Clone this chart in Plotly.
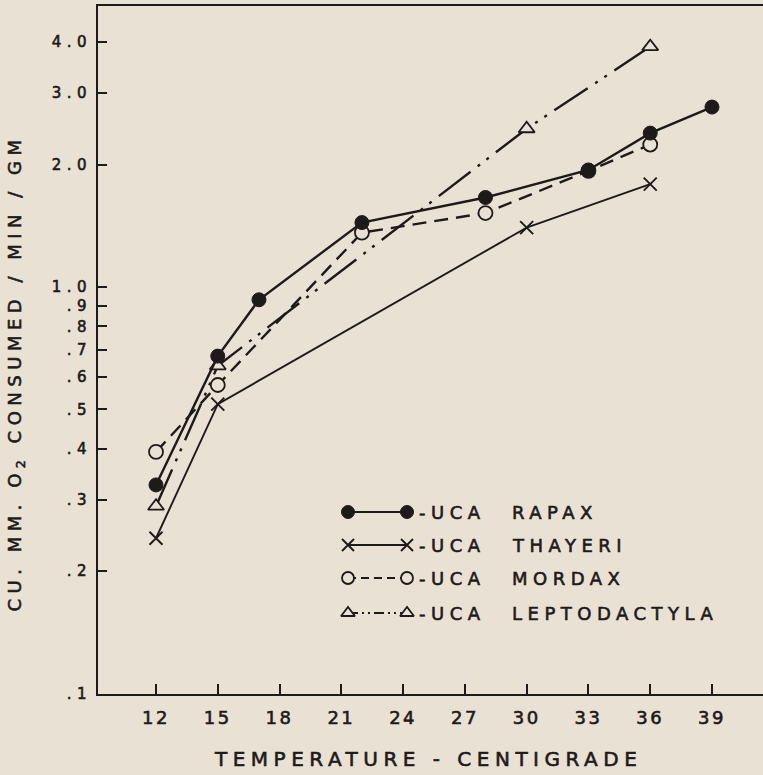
import plotly.graph_objects as go

# ---- data ----
rapax_t = [12, 15, 17, 22, 28, 33, 36, 39]
rapax_o2 = [0.326, 0.676, 0.93, 1.44, 1.66, 1.94, 2.39, 2.77]

thayeri_t = [12, 15, 30, 36]
thayeri_o2 = [0.241, 0.515, 1.40, 1.79]

mordax_t = [12, 15, 22, 28, 33, 36]
mordax_o2 = [0.393, 0.574, 1.36, 1.52, 1.93, 2.24]

lepto_t = [12, 15, 30, 36]
lepto_o2 = [0.289, 0.64, 2.45, 3.90]

x_ticks = [12, 15, 18, 21, 24, 27, 30, 33, 36, 39]
y_tickvals = [0.1, 0.2, 0.3, 0.4, 0.5, 0.6, 0.7, 0.8, 0.9, 1.0, 2.0, 3.0, 4.0]
y_ticktext = [".1", ".2", ".3", ".4", ".5", ".6", ".7", ".8", ".9", "1.0", "2.0", "3.0", "4.0"]

legend_species = ["RAPAX", "THAYERI", "MORDAX", "LEPTODACTYLA"]

# ---- style ----
BG = "#e9e2d4"
INK = "#1f1a1a"
FONT = "DejaVu Sans"

W, H = 763, 775
L, R, T, B = 98, 0, 6, 81
PW, PH = W - L - R, H - T - B


def px_x(px):
    return (px - L) / PW


def px_y(py):
    return (H - B - py) / PH


styles = {
    "rapax": dict(dash="solid", lw=2.4,
                  marker=dict(symbol="circle", size=14, color=INK, line=dict(color=INK, width=1))),
    "thayeri": dict(dash="solid", lw=1.9,
                    marker=dict(symbol="x-thin", size=13, color=INK, line=dict(color=INK, width=1.9))),
    "mordax": dict(dash="14px,8px", lw=2.4,
                   marker=dict(symbol="circle", size=14, color=BG, line=dict(color=INK, width=1.8))),
    "lepto": dict(dash="40px,9px,3px,8px,3px,9px", lw=2.4,
                  marker=dict(symbol="triangle-up", size=14, color=BG, line=dict(color=INK, width=1.8))),
}
data = {
    "rapax": (rapax_t, rapax_o2),
    "thayeri": (thayeri_t, thayeri_o2),
    "mordax": (mordax_t, mordax_o2),
    "lepto": (lepto_t, lepto_o2),
}
legend_order = ["rapax", "thayeri", "mordax", "lepto"]
draw_order = ["thayeri", "mordax", "lepto", "rapax"]
legend_dash = {"rapax": "solid", "thayeri": "solid", "mordax": "8px,5px",
               "lepto": "10px,4px,2px,4px,2px,4px"}

fig = go.Figure()

for key in draw_order:
    s = styles[key]
    t, v = data[key]
    fig.add_trace(go.Scatter(
        x=t, y=v, mode="lines+markers",
        line=dict(color=INK, width=s["lw"], dash=s["dash"]),
        marker=s["marker"], showlegend=False, hoverinfo="skip",
    ))

# ---- hand-drawn style legend on an overlay axis (0..1 coordinates) ----
legend_rows_px = [512, 545, 578, 613]
sample_x0, sample_x1 = px_x(348), px_x(407)
annotations = []
for i, key in enumerate(legend_order):
    s = styles[key]
    yy = px_y(legend_rows_px[i])
    m = dict(s["marker"])
    m["size"] = 13 if key == "rapax" else 12
    fig.add_trace(go.Scatter(
        x=[sample_x0, sample_x1], y=[yy, yy], mode="lines+markers",
        xaxis="x2", yaxis="y2",
        line=dict(color=INK, width=2.2 if key != "thayeri" else 1.8, dash=legend_dash[key]),
        marker=m, showlegend=False, hoverinfo="skip",
    ))
    annotations.append(dict(
        x=px_x(417), y=yy, xref="paper", yref="paper", xanchor="left", yanchor="middle",
        align="left", text="-UCA", showarrow=False,
        font=dict(family=FONT, size=18, color=INK)))
    annotations.append(dict(
        x=px_x(510), y=yy, xref="paper", yref="paper", xanchor="left", yanchor="middle",
        align="left", text=legend_species[i], showarrow=False,
        font=dict(family=FONT, size=18, color=INK)))

# axis titles
annotations.append(dict(
    x=px_x(428), y=px_y(759), xref="paper", yref="paper", xanchor="center", yanchor="middle",
    text="TEMPERATURE - CENTIGRADE", showarrow=False,
    font=dict(family=FONT, size=20, color=INK)))
annotations.append(dict(
    x=px_x(16), y=px_y(373), xref="paper", yref="paper", xanchor="center", yanchor="middle",
    text="CU. MM. O<sub>2</sub> CONSUMED / MIN / GM", textangle=-90, showarrow=False,
    font=dict(family=FONT, size=18, color=INK)))

fig.update_layout(
    width=W, height=H,
    margin=dict(l=L, r=R, t=T, b=B),
    paper_bgcolor=BG, plot_bgcolor=BG,
    font=dict(family=FONT, color=INK),
    showlegend=False,
    annotations=annotations,
    xaxis=dict(
        range=[9.183, 41.477], tickvals=x_ticks, ticks="inside", ticklen=10, tickwidth=1.6,
        tickcolor=INK, showline=True, linecolor=INK, linewidth=2, mirror=True,
        showgrid=False, zeroline=False, tickfont=dict(family=FONT, size=18, color=INK),
        ticklabelstandoff=6,
    ),
    yaxis=dict(
        type="log", range=[-1.001, 0.691], tickvals=y_tickvals, ticktext=y_ticktext,
        ticks="inside", ticklen=9, tickwidth=1.6, tickcolor=INK,
        showline=True, linecolor=INK, linewidth=2, mirror=False,
        showgrid=False, zeroline=False, tickfont=dict(family=FONT, size=15, color=INK),
        ticklabelstandoff=1,
    ),
    xaxis2=dict(overlaying="x", range=[0, 1], visible=False, anchor="y2"),
    yaxis2=dict(overlaying="y", range=[0, 1], visible=False, anchor="x2"),
)

# widen the letter spacing and thicken strokes to imitate the stencil lettering
post = """
var gd = document.getElementById('{plot_id}');
function ls(sel, v) {
  gd.querySelectorAll(sel).forEach(function (e) {
    e.style.letterSpacing = v;
    e.style.stroke = '#1f1a1a';
    e.style.strokeWidth = '0.6px';
  });
}
ls('.xtick text', '2.5px');
ls('.ytick text', '5.5px');
ls('.annotation-text', '5.5px');
"""

fig.write_html("out.html", post_script=post)
